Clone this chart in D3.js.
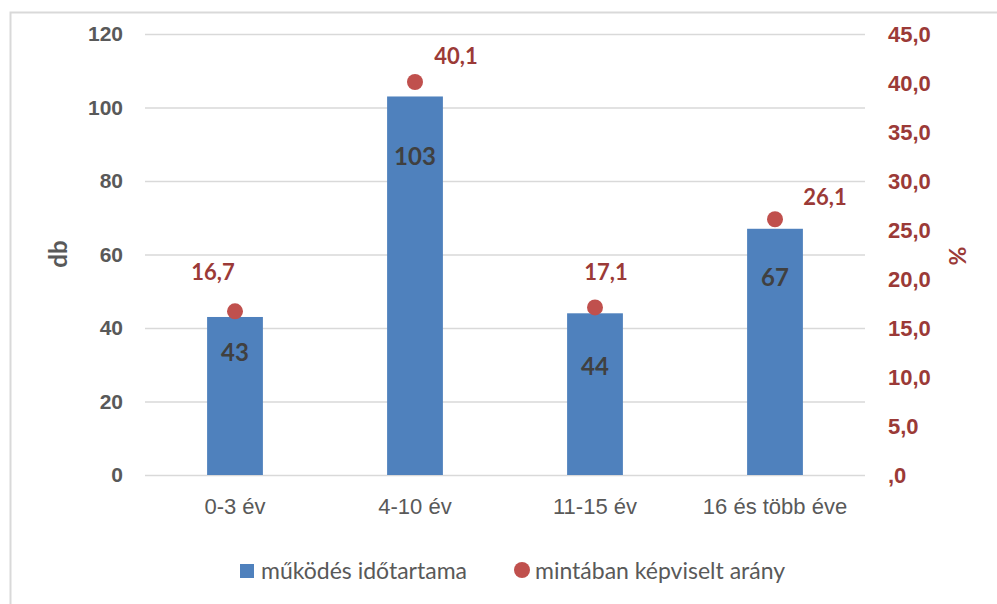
<!DOCTYPE html>
<html>
<head>
<meta charset="utf-8">
<script src="https://cdn.jsdelivr.net/npm/d3@7"></script>
<style>
  body { margin: 0; background: #fff; }
  svg { display: block; font-family: Lato, "Open Sans", sans-serif; }
</style>
</head>
<body>
<div id="chart"></div>
<script>
// chart data
var categories = ["0-3 év", "4-10 év", "11-15 év", "16 és több éve"];
var counts = [43, 103, 44, 67];            // működés időtartama (db)
var shares = [16.7, 40.1, 17.1, 26.1];     // mintában képviselt arány (%)
var leftTicks = [0, 20, 40, 60, 80, 100, 120];
var rightTicks = [0, 5, 10, 15, 20, 25, 30, 35, 40, 45];
var seriesNames = ["működés időtartama", "mintában képviselt arány"];

var W = 997, H = 604;
var margin = { top: 34, right: 132, bottom: 129, left: 145 };
var width = W - margin.left - margin.right,
    height = H - margin.top - margin.bottom;

var blue = "#4F81BD", red = "#C0504D", darkRed = "#9B3A37", gray = "#595959";

var svg = d3.select("#chart").append("svg")
    .attr("width", W)
    .attr("height", H);

// outer chart frame (only left and top edges are visible)
svg.append("rect")
    .attr("x", 10.5).attr("y", 12.5)
    .attr("width", W + 20).attr("height", H + 20)
    .attr("fill", "none")
    .attr("stroke", "#D9D9D9")
    .attr("stroke-width", 2);

var g = svg.append("g")
    .attr("transform", "translate(" + margin.left + "," + margin.top + ")");

// scales
var x = d3.scaleBand()
    .domain(categories)
    .range([0, width])
    .paddingInner(0.69)
    .paddingOuter(0.345);

var xc = d3.scaleBand().domain(categories).range([0, width]);

var yL = d3.scaleLinear().domain([0, 120]).range([height, 0]);
var yR = d3.scaleLinear().domain([0, 45]).range([height, 0]);

// gridlines
g.append("g")
    .attr("class", "grid")
    .call(d3.axisLeft(yL).tickValues(leftTicks).tickSize(-width).tickFormat(""))
    .call(function(s) {
      s.select(".domain").remove();
      s.selectAll("line").attr("stroke", "#D9D9D9").attr("stroke-width", 1.3);
    });

// left axis
g.append("g")
    .call(d3.axisLeft(yL).tickValues(leftTicks).tickSize(0).tickPadding(22))
    .call(function(s) {
      s.select(".domain").remove();
      s.selectAll("text")
          .attr("fill", gray)
          .style("font-size", "21px")
          .style("font-weight", "bold");
    });

// right axis
g.append("g")
    .attr("transform", "translate(" + width + ",0)")
    .call(d3.axisRight(yR).tickValues(rightTicks).tickSize(0).tickPadding(23)
      .tickFormat(function(d) { return d === 0 ? ",0" : d3.format(".1f")(d).replace(".", ","); }))
    .call(function(s) {
      s.select(".domain").remove();
      s.selectAll("text")
          .attr("fill", darkRed)
          .style("font-size", "22px")
          .style("font-weight", "bold");
    });

// x axis labels
g.append("g")
    .attr("transform", "translate(0," + height + ")")
    .call(d3.axisBottom(xc).tickSize(0).tickPadding(23))
    .call(function(s) {
      s.select(".domain").remove();
      s.selectAll("text")
          .attr("fill", gray)
          .style("font-size", "22px");
    });

// axis titles
svg.append("text")
    .attr("transform", "translate(67,254) rotate(-90)")
    .attr("text-anchor", "middle")
    .attr("fill", gray)
    .style("font-size", "24px")
    .style("font-weight", "bold")
    .text("db");

svg.append("text")
    .attr("transform", "translate(966,256) rotate(-90)")
    .attr("text-anchor", "middle")
    .attr("fill", darkRed)
    .style("font-size", "23px")
    .style("font-weight", "bold")
    .text("%");

// bars
g.selectAll(".bar")
    .data(counts)
    .enter().append("rect")
    .attr("class", "bar")
    .attr("x", function(d, i) { return x(categories[i]); })
    .attr("y", function(d) { return yL(d); })
    .attr("width", x.bandwidth())
    .attr("height", function(d) { return height - yL(d); })
    .attr("fill", blue);

// bar labels (hand placed in the original, nudged below bar top)
var barLabelDy = [36, 60, 53, 49];
g.selectAll(".bar-label")
    .data(counts)
    .enter().append("text")
    .attr("class", "bar-label")
    .attr("x", function(d, i) { return x(categories[i]) + x.bandwidth() / 2; })
    .attr("y", function(d, i) { return yL(d) + barLabelDy[i]; })
    .attr("dy", "0.35em")
    .attr("text-anchor", "middle")
    .attr("fill", "#404040")
    .style("font-size", "24px")
    .style("font-weight", "bold")
    .text(function(d) { return d; });

// dots
g.selectAll(".dot")
    .data(shares)
    .enter().append("circle")
    .attr("class", "dot")
    .attr("cx", function(d, i) { return xc(categories[i]) + xc.bandwidth() / 2; })
    .attr("cy", function(d) { return yR(d); })
    .attr("r", 8)
    .attr("fill", red);

// dot labels
var dotLabelNudge = [[-22, -39], [41, -26], [11, -35], [50, -22]];
g.selectAll(".dot-label")
    .data(shares)
    .enter().append("text")
    .attr("class", "dot-label")
    .attr("x", function(d, i) { return xc(categories[i]) + xc.bandwidth() / 2 + dotLabelNudge[i][0]; })
    .attr("y", function(d, i) { return yR(d) + dotLabelNudge[i][1]; })
    .attr("dy", "0.35em")
    .attr("text-anchor", "middle")
    .attr("fill", darkRed)
    .style("font-size", "22px")
    .style("font-weight", "bold")
    .text(function(d) { return d3.format(".1f")(d).replace(".", ","); });

// legend
var legend = svg.append("g").attr("transform", "translate(0,571)");

legend.append("rect")
    .attr("x", 240).attr("y", -7)
    .attr("width", 14).attr("height", 14)
    .attr("fill", blue);

legend.append("text")
    .attr("x", 261).attr("y", 0)
    .attr("dy", "0.35em")
    .attr("fill", gray)
    .style("font-size", "23px")
    .text(seriesNames[0]);

legend.append("circle")
    .attr("cx", 522).attr("cy", -1)
    .attr("r", 8)
    .attr("fill", red);

legend.append("text")
    .attr("x", 535).attr("y", 0)
    .attr("dy", "0.35em")
    .attr("fill", gray)
    .style("font-size", "23px")
    .text(seriesNames[1]);
</script>
</body>
</html>
